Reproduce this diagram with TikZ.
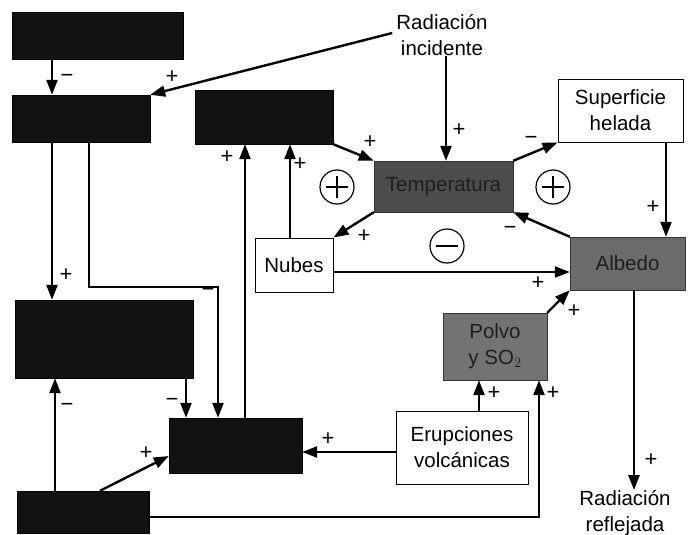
\documentclass[tikz,border=0pt]{standalone}
\usepackage{fontspec}
\setmainfont{Liberation Sans}
\usetikzlibrary{arrows.meta,calc}

\begin{document}
\begin{tikzpicture}[x=1pt,y=-1pt,
  every node/.style={font=\fontsize{20.5}{26}\selectfont},
  darkbox/.style={fill=black!93,draw=black,inner sep=0pt},
  greybox/.style={draw=black!80,inner sep=0pt,text=black!88,align=center},
  whitebox/.style={draw=black,line width=1pt,fill=white,inner sep=0pt,align=center},
  lbl/.style={align=center,inner sep=0pt},
  sgn/.style={font=\fontsize{22}{22}\selectfont,inner sep=0pt},
  arr/.style={line width=2.4pt,-{Triangle[length=15pt,width=11pt]}},
  loopmark/.style={circle,draw,line width=1.2pt,minimum size=34pt,inner sep=0pt}
]
\useasboundingbox (0,0) rectangle (693,535);

% ---- boxes ----
\node[darkbox,minimum width=171pt,minimum height=47pt] (A) at (97.5,35.5) {};
\node[darkbox,minimum width=138pt,minimum height=47pt] (B) at (81,118.5) {};
\node[darkbox,minimum width=138pt,minimum height=54pt] (C) at (264,117) {};
\node[darkbox,minimum width=178pt,minimum height=78pt] (D) at (104,339) {};
\node[darkbox,minimum width=133pt,minimum height=55pt] (E) at (235.5,445.5) {};
\node[darkbox,minimum width=132pt,minimum height=42pt] (F) at (83,512) {};

\node[greybox,fill=black!70,minimum width=139pt,minimum height=51pt] (T) at (443.5,186.5) {Temperatura};
\node[greybox,fill=black!58,minimum width=115pt,minimum height=53pt] (Al) at (627.5,263.5) {Albedo};
\node[greybox,fill=black!55,minimum width=104pt,minimum height=67pt] (P) at (495,346.5) {Polvo\\y SO$_2$};

\node[whitebox,minimum width=125pt,minimum height=63pt] (S) at (620.5,110.5) {Superficie\\helada};
\node[whitebox,minimum width=78pt,minimum height=54pt] (N) at (294,265) {Nubes};
\node[whitebox,minimum width=132pt,minimum height=73pt] (V) at (462,447.5) {Erupciones\\volcánicas};

\node[lbl] (inc) at (442,35) {Radiación\\incidente};
\node[lbl] (ref) at (625,513) {Radiación\\reflejada};

% ---- loop markers ----
\node[loopmark] (L1) at (337,187) {};
\node[loopmark] (L2) at (553,187) {};
\node[loopmark] (L3) at (447,246) {};
\foreach \c in {L1,L2}{
  \draw[line width=1.3pt] ($(\c.center)+(-11,0)$) -- ($(\c.center)+(11,0)$);
  \draw[line width=1.3pt] ($(\c.center)+(0,-11)$) -- ($(\c.center)+(0,11)$);
}
\draw[line width=1.3pt] ($(L3.center)+(-11,0)$) -- ($(L3.center)+(11,0)$);

% ---- connectors ----
\draw[arr] (A.south -| 52,0) -- (B.north -| 52,0);
\draw[arr] (inc.west) ++(-4,-2) -- (B.north east);
\draw[arr] (inc.south -| 446,0) -- (T.north -| 446,0);
\draw[arr] (C.south east) -- (T.north west);
\draw[arr] (T.north east) -- (S.south west);
\draw[arr] (S.south -| 666,0) -- (Al.north -| 666,0);
\draw[arr] (Al.north west) -- (T.south east);
\draw[arr] (T.south west) -- (N.north east);
\draw[arr] (N.north -| 290,0) -- (C.south -| 290,0);
\draw[arr] (N.east |- 0,272) -- (Al.west |- 0,272);
\draw[arr] (P.north east) -- (Al.south west);
\draw[arr] (V.north -| 479,0) -- (P.south -| 479,0);
\draw[arr] (F.east |- 0,517) -| (P.south -| 539,0);
\draw[arr] (V.west |- 0,452) -- (E.east |- 0,452);
\draw[arr] (F.north -| 100,0) -- (E.west |- 0,456);
\draw[arr] (F.north -| 55,0) -- (D.south -| 55,0);
\draw[arr] (D.south -| 186,0) -- (E.north -| 186,0);
\draw[arr] (B.south -| 89,0) |- (218,287) -- (E.north -| 218,0);
\draw[arr] (B.south -| 52,0) -- (D.north -| 52,0);
\draw[arr] (E.north -| 245,0) -- (C.south -| 245,0);
\draw[arr] (Al.south -| 634,0) -- (ref.north -| 634,0);

% ---- signs ----
\node[sgn] (s1) at (67,78) {−};
\node[sgn] (s2) at (172,77) {+};
\node[sgn] (s3) at (459,130) {+};
\node[sgn] (s4) at (370,142) {+};
\node[sgn] (s5) at (531,140) {−};
\node[sgn] (s6) at (653,207) {+};
\node[sgn] (s7) at (510,230) {−};
\node[sgn] (s8) at (364,236) {+};
\node[sgn] (s9) at (300,164) {+};
\node[sgn] (s10) at (538,283) {+};
\node[sgn] (s11) at (574,311) {+};
\node[sgn] (s12) at (494,393) {+};
\node[sgn] (s13) at (553,393) {+};
\node[sgn] (s14) at (328,439) {+};
\node[sgn] (s15) at (146,453) {+};
\node[sgn] (s16) at (67,407) {−};
\node[sgn] (s17) at (172,402) {−};
\node[sgn] (s18) at (208,292) {−};
\node[sgn] (s19) at (66,275) {+};
\node[sgn] (s20) at (227,157) {+};
\node[sgn] (s21) at (651,460) {+};
\end{tikzpicture}
\end{document}
